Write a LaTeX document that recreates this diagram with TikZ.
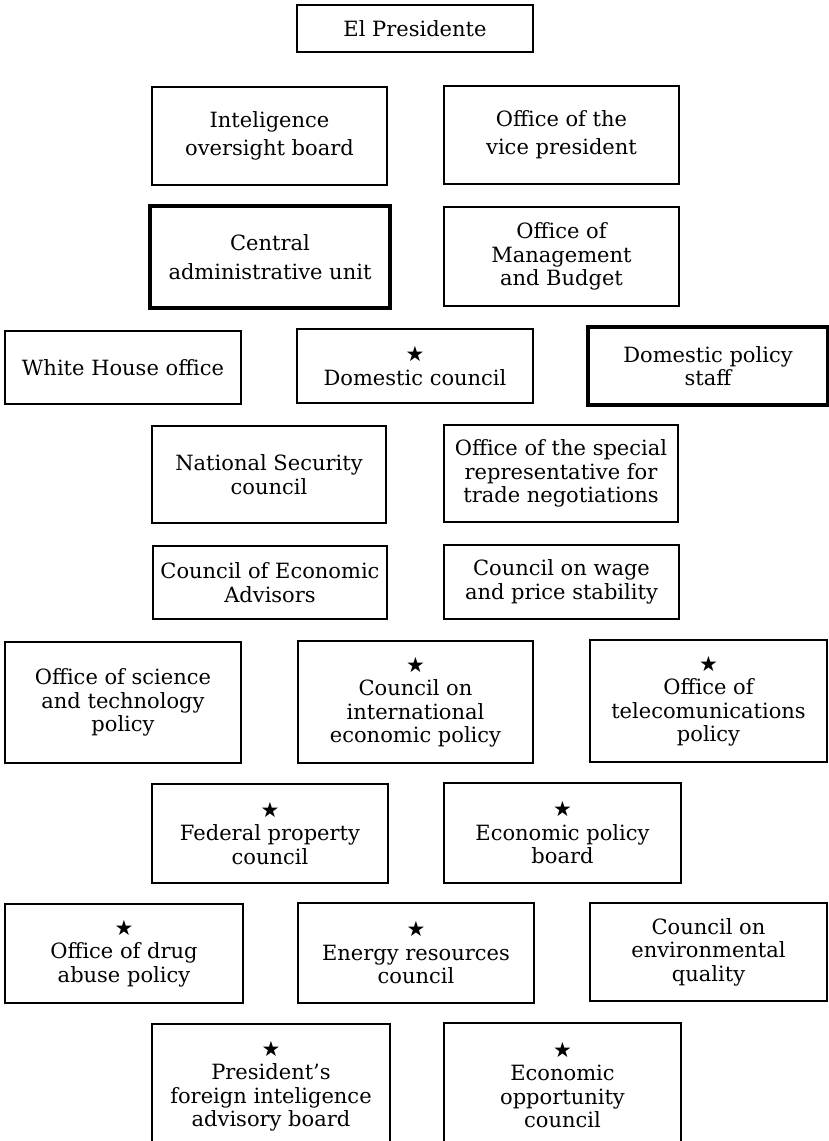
\documentclass[tikz,border=0pt]{standalone}
\usepackage{fontspec}
\setmainfont{DejaVu Serif}
\newfontfamily\starfont{DejaVu Sans}
\newcommand{\st}{{\starfont\fontsize{21}{18}\selectfont ★}}
\tikzset{
  box/.style={draw, line width=1.1pt, align=center, inner sep=0pt,
    font=\fontsize{21}{23.5}\selectfont},
  med/.style={box, line width=2.5pt},
  heavy/.style={box, line width=3.8pt},
  sz/.style 2 args={minimum width=#1pt, minimum height=#2pt},
}
\begin{document}
\begin{tikzpicture}[x=1pt,y=-1pt]
\useasboundingbox (0,0) rectangle (829,1141);
\clip (0,0) rectangle (829,1141);
\node[box,sz={236}{47}] (pres) at (415,28.5) {El Presidente};
\node[box,sz={235}{98}] (intel) at (269.5,136) {Inteligence\\[4.5pt]oversight board};
\node[box,sz={235}{98}] (vp) at (561.5,135) {Office of the\\[4.5pt]vice president};
\node[heavy,sz={240}{102}] (cau) at (270,257) {Central\\[5pt]administrative unit};
\node[box,sz={235}{99}] (omb) at (561.5,256.5) {Office of\\Management\\and Budget};
\node[box,sz={236}{73}] (who) at (123,367.5) {White House office};
\node[med,sz={236}{74}] (dc) at (415,366) {\st\\Domestic council};
\node[heavy,sz={240}{78}] (dps) at (708,366) {Domestic policy\\staff};
\node[box,sz={234}{97}] (nsc) at (269,474.5) {National Security\\council};
\node[box,sz={234}{97}] (str) at (561,473.5) {Office of the special\\representative for\\trade negotiations};
\node[box,sz={234}{73}] (cea) at (270,582.5) {Council of Economic\\Advisors};
\node[box,sz={235}{74}] (wage) at (561.5,582) {Council on wage\\and price stability};
\node[box,sz={236}{121}] (ostp) at (123,702.5) {Office of science\\and technology\\policy};
\node[med,sz={235}{122}] (ciep) at (415.5,702) {\st\\Council on\\international\\economic policy};
\node[med,sz={237}{122}] (otp) at (708.5,701) {\st\\Office of\\telecomunications\\policy};
\node[med,sz={236}{99}] (fpc) at (270,833.5) {\st\\Federal property\\council};
\node[med,sz={237}{100}] (epb) at (562.5,833) {\st\\Economic policy\\board};
\node[med,sz={238}{99}] (odap) at (124,953.5) {\st\\Office of drug\\abuse policy};
\node[med,sz={236}{100}] (erc) at (416,953) {\st\\Energy resources\\council};
\node[box,sz={237}{98}] (ceq) at (708.5,952) {Council on\\environmental\\quality};
\node[med,sz={238}{124}] (pfiab) at (271,1086) {\st\\President's\\foreign inteligence\\advisory board};
\node[med,sz={237}{124}] (eoc) at (562.5,1085) {\st\\Economic\\opportunity\\council};
\end{tikzpicture}
\end{document}
